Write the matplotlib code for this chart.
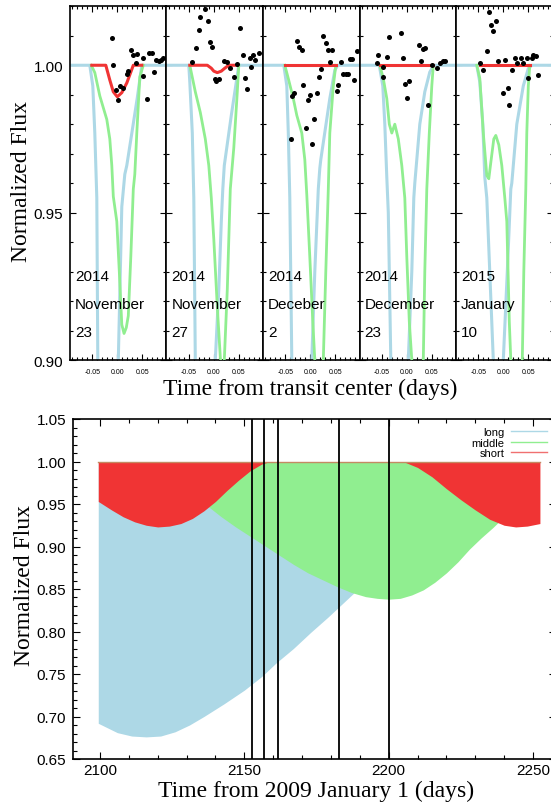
import matplotlib
matplotlib.use("Agg")
import matplotlib.pyplot as plt
from matplotlib.ticker import MultipleLocator, FixedLocator, FormatStrFormatter
from matplotlib.lines import Line2D

plt.rcParams['axes.unicode_minus'] = False
plt.rcParams['font.family'] = ['Liberation Sans', 'DejaVu Sans']

W, H, DPI = 551, 804, 100

# ---------------- top panels: data ----------------
panel_year = ["2014", "2014", "2014", "2014", "2015"]
panel_month = ["November", "November", "Deceber", "December", "January"]
panel_day = ["23", "27", "2", "23", "10"]

p1_long_t = [-0.095, -0.055, -0.049, -0.045, -0.041, -0.039, -0.036, 0.000, 0.002, 0.009, 0.015, 0.019, 0.030, 0.040, 0.049, 0.098]
p1_long_f = [1.0, 1.0, 0.993, 0.977, 0.955, 0.90, 0.86, 0.86, 0.90, 0.952, 0.963, 0.966, 0.978, 0.989, 1.0, 1.0]
p1_mid_t = [-0.052, -0.045, -0.035, -0.021, -0.015, -0.011, -0.008, -0.001, 0.004, 0.009, 0.0135, 0.018, 0.022, 0.027, 0.032, 0.035, 0.039, 0.045, 0.052]
p1_mid_f = [1.0, 0.9975, 0.9896, 0.9816, 0.975, 0.966, 0.9555, 0.947, 0.93, 0.912, 0.909, 0.911, 0.915, 0.935, 0.958, 0.963, 0.977, 0.996, 1.0]
p1_short_t = [-0.051, -0.023, -0.015, -0.008, 0.000, 0.009, 0.019, 0.029, 0.032, 0.049]
p1_short_f = [1.0, 1.0, 0.995, 0.991, 0.9893, 0.9907, 0.994, 0.9986, 1.0, 1.0]
p1_obs_t = [-0.011, -0.008, -0.003, 0.001, 0.005, 0.011, 0.019, 0.022, 0.027, 0.032, 0.037, 0.040, 0.051, 0.052, 0.059, 0.064, 0.069, 0.073, 0.077, 0.083, 0.087, 0.092]
p1_obs_f = [1.0093, 1.0000, 0.9915, 0.9883, 0.9929, 0.9923, 0.9972, 0.9980, 1.0051, 1.0036, 1.0006, 1.0037, 1.0025, 0.9964, 0.9884, 1.0042, 1.0042, 0.9977, 1.0017, 1.0014, 1.0017, 1.0025]

p2_long_t = [-0.095, -0.050, -0.048, -0.043, -0.040, -0.037, -0.034, 0.000, 0.003, 0.010, 0.015, 0.018, 0.021, 0.035, 0.050, 0.098]
p2_long_f = [1.0, 1.0, 0.9943, 0.977, 0.955, 0.90, 0.86, 0.86, 0.90, 0.924, 0.947, 0.958, 0.966, 0.983, 1.0, 1.0]
p2_mid_t = [-0.048, -0.037, -0.027, -0.017, -0.010, -0.005, 0.000, 0.007, 0.013, 0.017, 0.021, 0.027, 0.033, 0.040, 0.047, 0.050]
p2_mid_f = [1.0, 0.991, 0.984, 0.975, 0.966, 0.955, 0.941, 0.918, 0.901, 0.895, 0.90, 0.924, 0.958, 0.972, 0.991, 1.0]
p2_short_t = [-0.048, -0.013, -0.005, 0.000, 0.007, 0.015, 0.022, 0.030, 0.047]
p2_short_f = [1.0, 1.0, 0.999, 0.998, 0.9975, 0.998, 0.999, 1.0, 1.0]
p2_obs_t = [-0.043, -0.035, -0.030, -0.027, -0.018, -0.012, -0.008, -0.003, 0.002, 0.005, 0.010, 0.021, 0.027, 0.033, 0.040, 0.047, 0.053, 0.058, 0.063, 0.067, 0.072, 0.075, 0.079, 0.083, 0.090]
p2_obs_f = [1.0012, 1.0057, 1.0119, 1.0165, 1.0190, 1.0150, 1.0079, 1.0063, 0.9955, 0.9946, 0.9955, 1.0014, 1.0012, 0.9989, 0.9960, 1.0003, 1.0125, 1.0034, 0.9957, 0.9921, 1.0023, 0.9994, 1.0034, 1.0019, 1.0043]

p3_long_t = [-0.095, -0.053, -0.047, -0.044, -0.041, -0.037, -0.034, 0.000, 0.003, 0.009, 0.016, 0.019, 0.021, 0.039, 0.049, 0.055, 0.098]
p3_long_f = [1.0, 1.0, 0.993, 0.977, 0.955, 0.90, 0.86, 0.86, 0.90, 0.93, 0.958, 0.965, 0.968, 0.9887, 0.9983, 1.0, 1.0]
p3_mid_t = [-0.051, -0.044, -0.034, -0.027, -0.017, -0.011, -0.007, -0.001, 0.005, 0.009, 0.015, 0.021, 0.026, 0.031, 0.036, 0.039, 0.046, 0.051]
p3_mid_f = [1.0, 0.9955, 0.9887, 0.983, 0.977, 0.968, 0.956, 0.935, 0.913, 0.90, 0.88, 0.88, 0.90, 0.93, 0.958, 0.977, 0.993, 1.0]
p3_short_t = [-0.051, 0.051]
p3_short_f = [1.0, 1.0]
p3_obs_t = [-0.027, -0.022, -0.017, 0.026, 0.031, 0.035, 0.044, 0.039, 0.061, 0.021, 0.018, -0.014, -0.032, -0.037, -0.001, -0.005, 0.013, 0.008, -0.009, -0.039, 0.004, 0.056, 0.053, 0.066, 0.071, 0.076, 0.079, 0.084, 0.088, 0.094]
p3_obs_f = [1.0083, 1.0063, 1.0051, 1.0099, 1.0077, 1.0053, 1.0051, 1.0012, 1.0012, 0.9986, 0.9960, 0.9934, 0.9906, 0.9895, 0.9898, 0.9881, 0.9906, 0.9816, 0.9788, 0.9751, 0.9734, 0.9934, 0.9912, 0.9972, 0.9972, 0.9972, 1.0020, 1.0020, 0.9949, 1.0048]

p4_long_t = [-0.095, -0.055, -0.048, -0.044, -0.040, -0.037, -0.032, -0.029, 0.000, 0.003, 0.010, 0.014, 0.016, 0.026, 0.036, 0.046, 0.054, 0.098]
p4_long_f = [1.0, 1.0, 0.993, 0.980, 0.962, 0.950, 0.90, 0.87, 0.87, 0.90, 0.93, 0.955, 0.960, 0.980, 0.991, 0.9977, 1.0, 1.0]
p4_mid_t = [-0.054, -0.047, -0.040, -0.035, -0.030, -0.024, -0.017, -0.010, -0.004, 0.000, 0.005, 0.010, 0.020, 0.033, 0.036, 0.040, 0.045, 0.050, 0.053]
p4_mid_f = [1.0, 0.9955, 0.9887, 0.980, 0.977, 0.980, 0.975, 0.966, 0.955, 0.935, 0.913, 0.90, 0.87, 0.90, 0.93, 0.958, 0.977, 0.993, 1.0]
p4_short_t = [-0.054, 0.053]
p4_short_f = [1.0, 1.0]
p4_obs_t = [-0.058, -0.060, -0.047, -0.048, -0.040, -0.036, -0.012, -0.008, -0.004, 0.005, 0.000, 0.025, 0.033, 0.036, 0.028, 0.042, 0.050, 0.060, 0.066, 0.072, 0.076]
p4_obs_f = [1.0036, 1.0006, 0.9995, 0.9960, 1.0029, 1.0097, 1.0108, 1.0023, 0.9938, 0.9946, 0.9889, 1.0070, 1.0054, 1.0060, 1.0014, 0.9864, 1.0000, 0.9991, 1.0006, 1.0014, 1.0014]

p5_long_t = [-0.095, -0.053, -0.047, -0.041, -0.037, -0.033, -0.020, -0.016, -0.004, 0.000, 0.008, 0.015, 0.017, 0.027, 0.040, 0.050, 0.057, 0.098]
p5_long_f = [1.0, 1.0, 0.9943, 0.980, 0.962, 0.955, 0.90, 0.88, 0.88, 0.90, 0.93, 0.958, 0.960, 0.980, 0.993, 0.9989, 1.0, 1.0]
p5_mid_t = [-0.053, -0.047, -0.040, -0.033, -0.029, -0.025, -0.019, -0.015, -0.009, -0.003, 0.003, 0.007, 0.012, 0.015, 0.025, 0.038, 0.041, 0.045, 0.047, 0.050, 0.053]
p5_mid_f = [1.0, 0.9955, 0.977, 0.9626, 0.9615, 0.967, 0.975, 0.9762, 0.973, 0.966, 0.955, 0.947, 0.913, 0.90, 0.87, 0.90, 0.93, 0.958, 0.977, 0.993, 1.0]
p5_short_t = [-0.047, 0.053]
p5_short_f = [1.0, 1.0]
p5_obs_t = [-0.047, -0.040, -0.033, -0.029, -0.025, -0.020, -0.015, -0.010, 0.000, 0.009, 0.012, 0.003, 0.018, 0.023, 0.028, 0.035, 0.040, 0.047, 0.050, 0.057, 0.060, 0.065, 0.070]
p5_obs_f = [1.0006, 0.9985, 1.0048, 1.0179, 1.0136, 1.0116, 1.0150, 1.0015, 0.9907, 0.9923, 0.9864, 1.0018, 0.9983, 1.0025, 1.0006, 1.0026, 1.0006, 1.0025, 0.9958, 1.0023, 1.0036, 1.0032, 0.9968]

# ---------------- bottom panel: data ----------------
long_env_t = [2099.4, 2106, 2111, 2116, 2121, 2126, 2131, 2136, 2143, 2150, 2156, 2161, 2167, 2173, 2179, 2185, 2191, 2196]
long_env_f = [0.692, 0.681, 0.677, 0.676, 0.677, 0.682, 0.690, 0.700, 0.715, 0.731, 0.747, 0.763, 0.780, 0.799, 0.817, 0.836, 0.855, 0.871]
mid_env_t = [2108, 2113, 2120, 2126, 2132, 2137.5, 2142, 2147, 2152, 2157, 2162, 2167, 2172, 2177, 2182, 2187, 2192, 2196, 2200, 2204, 2208, 2212, 2216, 2220, 2224, 2228, 2232, 2236, 2240, 2243]
mid_env_f = [1.0, 0.985, 0.975, 0.966, 0.957, 0.947, 0.935, 0.923, 0.912, 0.901, 0.890, 0.879, 0.869, 0.861, 0.853, 0.846, 0.841, 0.839, 0.838, 0.839, 0.843, 0.849, 0.858, 0.869, 0.882, 0.897, 0.910, 0.922, 0.935, 0.945]
short_env_t = [2099.4, 2104, 2108, 2112, 2116, 2120, 2124, 2128, 2132, 2136, 2140, 2144, 2148, 2152, 2156, 2159, 2205, 2210, 2215, 2220, 2225, 2230, 2235, 2240, 2244, 2248, 2252.4]
short_env_f = [0.953, 0.943, 0.935, 0.929, 0.925, 0.923, 0.924, 0.927, 0.933, 0.942, 0.953, 0.966, 0.978, 0.989, 0.997, 1.0, 1.0, 0.993, 0.982, 0.968, 0.955, 0.943, 0.932, 0.925, 0.923, 0.924, 0.927]
observed_epochs = [2152.8, 2156.7, 2161.6, 2182.7, 2200.2]
legend_labels = ["long", "middle", "short"]

C_LONG = '#add8e6'
C_MID = '#90ee90'
C_SHORT = '#f03434'

panels = [
    (p1_long_t, p1_long_f, p1_mid_t, p1_mid_f, p1_short_t, p1_short_f, p1_obs_t, p1_obs_f),
    (p2_long_t, p2_long_f, p2_mid_t, p2_mid_f, p2_short_t, p2_short_f, p2_obs_t, p2_obs_f),
    (p3_long_t, p3_long_f, p3_mid_t, p3_mid_f, p3_short_t, p3_short_f, p3_obs_t, p3_obs_f),
    (p4_long_t, p4_long_f, p4_mid_t, p4_mid_f, p4_short_t, p4_short_f, p4_obs_t, p4_obs_f),
    (p5_long_t, p5_long_f, p5_mid_t, p5_mid_f, p5_short_t, p5_short_f, p5_obs_t, p5_obs_f),
]

fig = plt.figure(figsize=(W / DPI, H / DPI), dpi=DPI)

serif = ['Liberation Serif', 'DejaVu Serif']

left0 = 70 / W
pw = 96.5 / W
tb = 1 - 361 / H
th = (361 - 7.3) / H

for i, (lt, lf, mt, mf, st, sf, ot, of) in enumerate(panels):
    ax = fig.add_axes([left0 + i * pw, tb, pw, th])
    ax.plot(lt, lf, color=C_LONG, lw=2.2, zorder=2, solid_joinstyle='round')
    ax.plot(mt, mf, color=C_MID, lw=2.0, zorder=3, solid_joinstyle='round')
    ax.plot(st, sf, color=C_SHORT, lw=2.2, zorder=4, solid_joinstyle='round')
    ax.scatter(ot, of, s=13, color='black', lw=0, zorder=5)
    ax.set_xlim(-0.0946, 0.0984)
    ax.set_ylim(0.90, 1.02)
    ax.xaxis.set_major_locator(FixedLocator([-0.05, 0.0, 0.05]))
    ax.xaxis.set_minor_locator(MultipleLocator(0.01))
    ax.xaxis.set_major_formatter(FormatStrFormatter('%.2f'))
    ax.yaxis.set_major_locator(MultipleLocator(0.05))
    ax.yaxis.set_minor_locator(MultipleLocator(0.01))
    ax.yaxis.set_major_formatter(FormatStrFormatter('%.2f'))
    ax.tick_params(which='both', direction='in', top=True, right=True, width=0.8)
    ax.tick_params(which='major', length=4)
    ax.tick_params(which='minor', length=2)
    ax.tick_params(axis='x', labelsize=5, pad=6)
    ax.tick_params(axis='y', labelsize=11, pad=5)
    if i > 0:
        ax.tick_params(axis='y', labelleft=False)
    for sp in ax.spines.values():
        sp.set_linewidth(1.2)
    ax.text(0.052, 0.2366, panel_year[i], transform=ax.transAxes, fontsize=11, va='center', ha='left')
    ax.text(0.052, 0.158, panel_month[i], transform=ax.transAxes, fontsize=11, va='center', ha='left')
    ax.text(0.052, 0.079, panel_day[i], transform=ax.transAxes, fontsize=11, va='center', ha='left')

fig.text(310 / W, 1 - 389 / H, "Time from transit center (days)", family=serif, fontsize=17,
         ha='center', va='center')
fig.text(22 / W, 1 - 182 / H, "Normalized Flux", family=serif, fontsize=17,
         ha='center', va='center', rotation=90)

# ---------------- bottom panel ----------------
ax2 = fig.add_axes([73 / W, 1 - 760 / H, (556 - 73) / W, 340 / H])
ax2.fill_between(long_env_t, long_env_f, 1.0, color=C_LONG, lw=0, zorder=1)
ax2.fill_between(mid_env_t, mid_env_f, 1.0, color=C_MID, lw=0, zorder=2)
ax2.fill_between(short_env_t, short_env_f, 1.0, color=C_SHORT, lw=0, zorder=3)
ax2.plot([short_env_t[0], short_env_t[-1]], [1.0, 1.0], color='#c48a62', lw=1.0, zorder=4)
for ep in observed_epochs:
    ax2.axvline(ep, color='black', lw=1.3, zorder=6)
ax2.set_xlim(2090.65, 2257.97)
ax2.set_ylim(0.65, 1.05)
ax2.xaxis.set_major_locator(MultipleLocator(50))
ax2.xaxis.set_minor_locator(MultipleLocator(10))
ax2.yaxis.set_major_locator(MultipleLocator(0.05))
ax2.yaxis.set_minor_locator(MultipleLocator(0.01))
ax2.yaxis.set_major_formatter(FormatStrFormatter('%.2f'))
ax2.tick_params(which='both', direction='in', top=True, right=True, width=0.8)
ax2.tick_params(which='major', length=5, labelsize=11, pad=5)
ax2.tick_params(axis='x', which='major', pad=3)
ax2.tick_params(which='minor', length=3)
for sp in ax2.spines.values():
    sp.set_linewidth(1.2)

handles = [Line2D([], [], color=C_LONG, lw=1.0),
           Line2D([], [], color=C_MID, lw=1.0),
           Line2D([], [], color='#f07070', lw=1.0)]
ax2.legend(handles, legend_labels, loc='upper right', frameon=False, markerfirst=False,
           fontsize=8, handlelength=3.2, handletextpad=0.6, labelspacing=0.05,
           borderaxespad=0, borderpad=0.1,
           bbox_to_anchor=(548 / W, 1 - 427 / H), bbox_transform=fig.transFigure)

fig.text(316 / W, 1 - 791 / H, "Time from 2009 January 1 (days)", family=serif, fontsize=17,
         ha='center', va='center')
fig.text(25 / W, 1 - 585 / H, "Normalized Flux", family=serif, fontsize=17,
         ha='center', va='center', rotation=90)

fig.savefig("out.png", dpi=DPI)
